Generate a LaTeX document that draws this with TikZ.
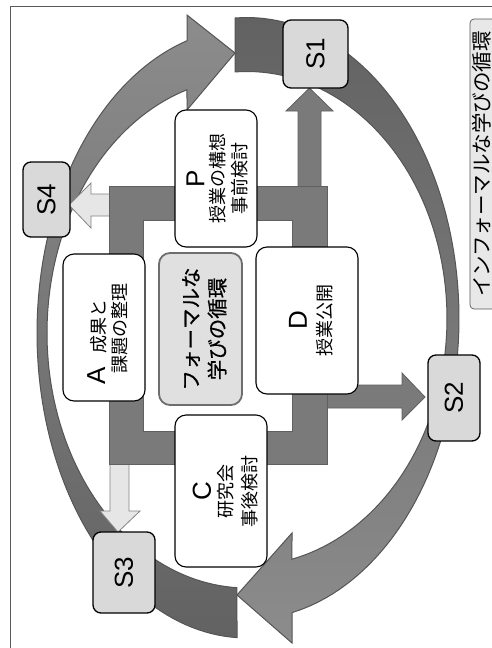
\documentclass[tikz,border=0pt]{standalone}
\usepackage{fontspec}
\setmainfont{Liberation Sans}
\newfontfamily\jp{Noto Sans CJK JP}
\newfontfamily\jpb[FakeBold=0.6]{Noto Sans CJK JP}
\definecolor{sgray}{HTML}{D9D9D9}
\definecolor{ringline}{HTML}{555555}
\definecolor{ringdark}{HTML}{626262}
\definecolor{ringlight}{HTML}{8C8C8C}
\definecolor{framefill}{HTML}{7A7A7A}
\definecolor{frameline}{HTML}{606060}
\definecolor{lightfill}{HTML}{E6E6E6}
\definecolor{lightline}{HTML}{858585}
\definecolor{centerfill}{HTML}{E0E0E0}
\definecolor{centerline}{HTML}{6E6E6E}
\definecolor{titlefill}{HTML}{E8E8E8}
\definecolor{border}{HTML}{5A5A5A}
\begin{document}
\begin{tikzpicture}[x=1pt,y=-1pt,
  ringarrow/.style={draw=ringline, line width=1pt, line join=miter},
  midarrow/.style={draw=frameline, fill=framefill, line width=0.8pt},
  lightarrow/.style={draw=lightline, fill=lightfill, line width=0.8pt},
  sbox/.style={draw=black, line width=1.3pt, fill=sgray, rounded corners=8pt, inner sep=0pt},
  wbox/.style={draw=black, line width=1.1pt, fill=white, rounded corners=11pt, inner sep=0pt},
  cbox/.style={draw=centerline, line width=1.8pt, fill=centerfill, rounded corners=11pt, inner sep=0pt},
  tbox/.style={draw=border, line width=0.7pt, fill=titlefill, rounded corners=4pt, inner sep=0pt},
  slabel/.style={rotate=90, inner sep=0pt, font=\fontsize{26}{28}\selectfont},
  biglabel/.style={rotate=90, inner sep=0pt, font=\fontsize{26}{28}\selectfont},
  jplabel/.style={rotate=90, inner sep=0pt, font=\jp\fontsize{18}{20}\selectfont},
  cenlabel/.style={rotate=90, inner sep=0pt, font=\jpb\fontsize{20.5}{22}\selectfont},
  titlelabel/.style={rotate=90, inner sep=0pt, font=\jp\fontsize{20.5}{22}\selectfont}
]
\useasboundingbox (0,0) rectangle (492,648);
\clip (0,0) rectangle (492,648);
\fill[white] (0,0) rectangle (492,648);
% outer frame lines
\draw[border, line width=0.8pt] (10,660) -- (10,6) -- (500,6);

% big ring arrows
\path[ringarrow, top color=ringdark, bottom color=ringlight]
  plot[domain=266.8:437.7, samples=90] ({247+212*cos(\x)},{318.5+301*sin(\x)})
  -- (292,643) -- (237,595) -- (292,533) --
  plot[domain=437.0:266.6, samples=90] ({247+200*cos(\x)},{318.5+247*sin(\x)})
  -- cycle;
\path[ringarrow, top color=ringlight, bottom color=ringdark]
  plot[domain=92.73:253.4, samples=90] ({247+210*cos(\x)},{333+305*sin(\x)})
  -- (187,15) -- (235,53) -- (187,110) --
  plot[domain=252.54:92.87, samples=90] ({247+200*cos(\x)},{333+255*sin(\x)})
  -- cycle;

% arrows from the square loop
\draw[midarrow] (298,190) -- (298,111) -- (286,111) -- (309.5,88) -- (333,111) -- (321,111) -- (321,190) -- cycle;
\draw[midarrow] (320,385) -- (402,385) -- (402,373) -- (425,397) -- (402,420) -- (402,408) -- (320,408) -- cycle;
\draw[lightarrow] (112,194) -- (91,194) -- (91,183) -- (69,205) -- (91,228) -- (91,216) -- (112,216) -- cycle;
\draw[lightarrow] (110,461) -- (110,511) -- (100,511) -- (118,532) -- (140,511) -- (129,511) -- (129,461) -- cycle;

% square loop
\path[draw=frameline, fill=framefill, line width=0.8pt, even odd rule]
  (109,186) rectangle (327,464) (143,220) rectangle (292,431);

% boxes
\node[wbox, minimum width=82pt, minimum height=137pt] (P) at (216,178.5) {};
\node[wbox, minimum width=102pt, minimum height=147pt] (D) at (307,320.5) {};
\node[wbox, minimum width=82pt, minimum height=147pt] (A) at (104,327.5) {};
\node[wbox, minimum width=92pt, minimum height=152pt] (C) at (221,491) {};
\node[cbox, minimum width=83pt, minimum height=152pt] (CEN) at (200.5,329) {};
\node[tbox, minimum width=34pt, minimum height=290pt] (T) at (487,164) {};

\node[sbox, minimum width=65pt, minimum height=68pt] (S1) at (315.5,54) {};
\node[sbox, minimum width=52pt, minimum height=86pt] (S2) at (454,398) {};
\node[sbox, minimum width=62pt, minimum height=81pt] (S3) at (124,572.5) {};
\node[sbox, minimum width=47pt, minimum height=75pt] (S4) at (46.5,199.5) {};

% labels
\node[slabel] (s1t) at (S1) {S1};
\node[slabel] (s2t) at (S2) {S2};
\node[slabel] (s3t) at (S3) {S3};
\node[slabel] (s4t) at (S4) {S4};

\node[biglabel] (pt) at (195.5,178.5) {P};
\node[jplabel] (pt2) at (218,178.5) {授業の構想};
\node[jplabel] (pt3) at (240,178.5) {事前検討};

\node[biglabel] (dt) at (298,320.5) {D};
\node[jplabel] (dt2) at (325,320.5) {授業公開};

\node[rotate=90, inner sep=0pt] (at1) at (97,342) {\fontsize{26}{28}\selectfont A\hspace{14pt}{\jp\fontsize{18}{20}\selectfont 成果と}};
\node[jplabel] (at2) at (120,328) {課題の整理};

\node[biglabel] (ct) at (202,491) {C};
\node[jplabel] (ct2) at (226,491) {研究会};
\node[jplabel] (ct3) at (250,491) {事後検討};

\node[cenlabel] (cen1) at (191,329) {フォーマルな};
\node[cenlabel] (cen2) at (217,329) {学びの循環};

\node[titlelabel] (tt) at (482,164) {インフォーマルな学びの循環};
\end{tikzpicture}
\end{document}
